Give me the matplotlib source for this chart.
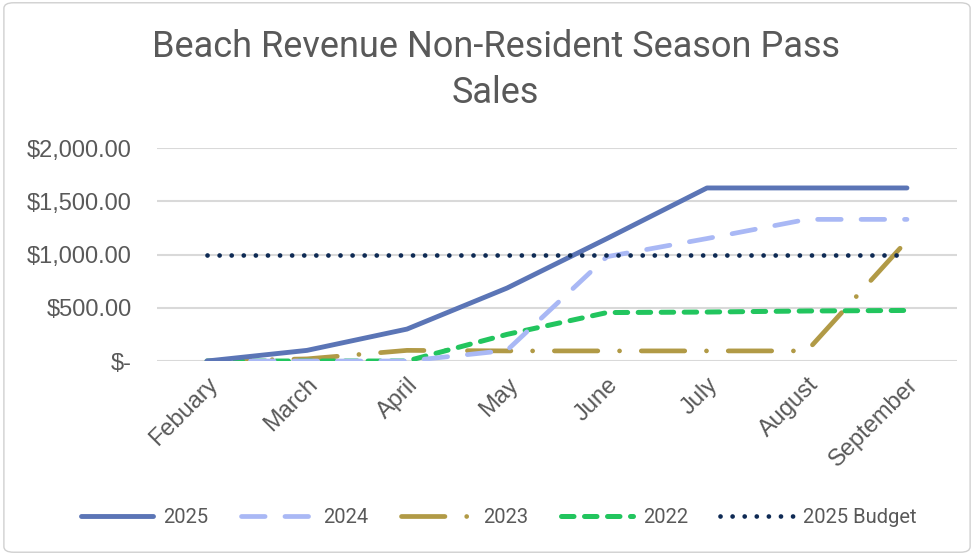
import matplotlib
matplotlib.use("Agg")
import matplotlib.pyplot as plt
from matplotlib.patches import FancyBboxPatch
from matplotlib.ticker import FuncFormatter

months = ["Febuary", "March", "April", "May", "June", "July", "August", "September"]
s2025 = [0, 100, 300, 685, 1150, 1625, 1625, 1625]
s2024 = [0, 0, 0, 100, 980, 1150, 1330, 1330]
s2023 = [0, 20, 100, 95, 95, 95, 95, 1130]
s2022 = [0, 0, 0, 250, 455, 460, 470, 475]
budget = [1000, 1000, 1000, 1000, 1000, 1000, 1000, 1000]
yticks = [0, 500, 1000, 1500, 2000]

TXT = "#595959"
fig = plt.figure(figsize=(9.74, 5.55), dpi=100)
fig.patch.set_facecolor("white")
fig.patches.append(FancyBboxPatch((0.004, 0.005), 0.992, 0.99, boxstyle="round,pad=0,rounding_size=0.01",
                                  transform=fig.transFigure, fill=False, edgecolor="#D0D0D0", lw=1))

ax = fig.add_axes([0.1612, 0.3495, 0.8213, 0.3838])
x = list(range(len(months)))

l1, = ax.plot(x, s2025, color="#5B75B6", lw=3.5, solid_capstyle="round", label="2025", zorder=5)
l2, = ax.plot(x, s2024, color="#A9B8F5", lw=3.4, dash_capstyle="round", dashes=(5.0, 4.2), label="2024", zorder=4)
l3, = ax.plot(x, s2023, color="#B19A46", lw=3.4, dash_capstyle="round", dashes=(9.2, 4.6, 0.01, 4.6), label="2023", zorder=3)
l4, = ax.plot(x, s2022, color="#22C55E", lw=3.6, dash_capstyle="round", dashes=(2.5, 2.1), label="2022", zorder=3)
l5, = ax.plot(x, budget, color="#0E2A54", lw=3.4, dash_capstyle="round", dashes=(0.01, 2.55), label="2025 Budget", zorder=6)

ax.set_xlim(-0.5, len(months) - 0.5)
ax.set_ylim(0, 2000)
ax.set_yticks(yticks)

def fmt(v, pos):
    if v == 0:
        return "$-"
    return "${:,.2f}".format(v)

ax.yaxis.set_major_formatter(FuncFormatter(fmt))
ax.set_xticks(x)
ax.set_xticklabels(months, rotation=45, ha="right", rotation_mode="anchor")
for sp in ax.spines.values():
    sp.set_visible(False)
ax.grid(axis="y", color="#D9D9D9", lw=1.5)
ax.set_axisbelow(True)
ax.tick_params(axis="both", length=0, colors=TXT, labelsize=17)
ax.tick_params(axis="y", pad=18)
ax.tick_params(axis="x", pad=9)
for t in ax.get_xticklabels() + ax.get_yticklabels():
    t.set_fontfamily("Liberation Sans")
    t.set_color(TXT)

fig.text(0.509, 0.874, "Beach Revenue Non-Resident Season Pass", ha="center", va="center",
         fontsize=26, color=TXT, family="Roboto")
fig.text(0.509, 0.874, "Sales", ha="center", va="center",
         fontsize=26, color=TXT, family="Roboto", alpha=0)
fig.texts[-1].set_position((0.509, 0.833))
fig.texts[-1].set_alpha(1)
fig.texts[-2].set_position((0.509, 0.915))

leg = fig.legend(handles=[l1, l2, l3, l4, l5], loc="center", bbox_to_anchor=(0.512, 0.068), ncol=5,
                 frameon=False, handlelength=3.6, columnspacing=1.6, handletextpad=0.5,
                 prop={"family": "Roboto", "size": 14.5})
for t in leg.get_texts():
    t.set_color(TXT)

fig.savefig("out.png", dpi=100, facecolor="white")
